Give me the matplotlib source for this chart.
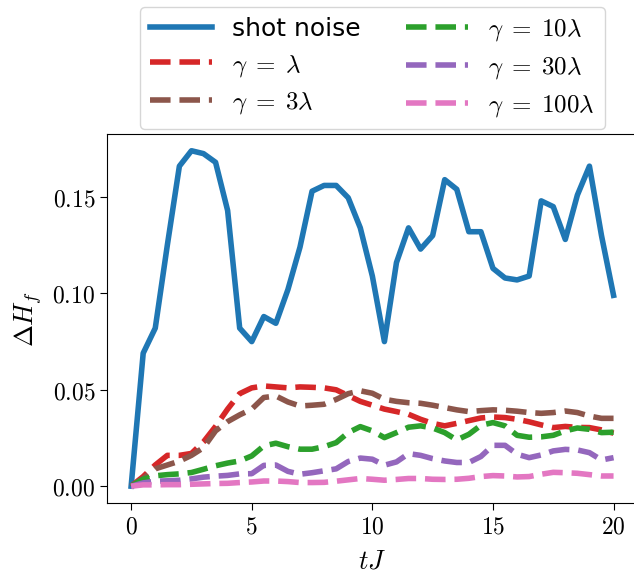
import numpy as np
import matplotlib
matplotlib.use("Agg")
import matplotlib.pyplot as plt
from matplotlib.ticker import FuncFormatter

plt.rcParams["mathtext.fontset"] = "cm"

t = np.arange(0, 20.5, 0.5)

shot_noise = [0, 0.069, 0.082, 0.125, 0.166, 0.174, 0.1725, 0.168, 0.143, 0.082,
              0.075, 0.088, 0.0845, 0.102, 0.124, 0.153, 0.156, 0.156, 0.1496, 0.134,
              0.109, 0.075, 0.116, 0.134, 0.123, 0.130, 0.159, 0.154, 0.132, 0.132,
              0.113, 0.108, 0.107, 0.109, 0.148, 0.145, 0.128, 0.151, 0.166, 0.130,
              0.099]
g1 = [0, 0.005, 0.011, 0.016, 0.016, 0.017, 0.023, 0.031, 0.040, 0.048,
      0.051, 0.052, 0.0515, 0.051, 0.0515, 0.0513, 0.051, 0.050, 0.047, 0.044,
      0.042, 0.040, 0.0387, 0.0373, 0.0347, 0.0326, 0.0313, 0.0326, 0.034, 0.0354,
      0.0359, 0.0356, 0.0347, 0.0334, 0.0318, 0.0304, 0.031, 0.0305, 0.0304, 0.0292,
      0.0275]
g3 = [0, 0.004, 0.009, 0.011, 0.013, 0.016, 0.020, 0.0287, 0.0335, 0.037,
      0.040, 0.046, 0.0468, 0.0437, 0.0416, 0.042, 0.0425, 0.045, 0.048, 0.0495,
      0.0482, 0.0451, 0.044, 0.0433, 0.043, 0.042, 0.0408, 0.0396, 0.0387, 0.0392,
      0.0396, 0.0394, 0.0389, 0.0382, 0.0378, 0.0382, 0.039, 0.0382, 0.0364, 0.0352,
      0.0352]
g10 = [0, 0.0036, 0.0054, 0.006, 0.0064, 0.0071, 0.0088, 0.0106, 0.012, 0.0131,
       0.0157, 0.0209, 0.0223, 0.0205, 0.0192, 0.0192, 0.0205, 0.0226, 0.0278, 0.0309,
       0.0287, 0.0252, 0.0278, 0.0306, 0.0313, 0.0302, 0.0278, 0.024, 0.0269, 0.0316,
       0.033, 0.0313, 0.0264, 0.0254, 0.0256, 0.0264, 0.0287, 0.0302, 0.0295, 0.0278,
       0.028]
g30 = [0, 0.0017, 0.0026, 0.0028, 0.0031, 0.0038, 0.0047, 0.0052, 0.0056, 0.0064,
       0.0065, 0.0108, 0.011, 0.0077, 0.0062, 0.007, 0.008, 0.009, 0.0128, 0.0146,
       0.014, 0.0109, 0.0126, 0.0169, 0.016, 0.0143, 0.0131, 0.0123, 0.0123, 0.0154,
       0.0212, 0.0212, 0.0166, 0.0148, 0.0162, 0.0183, 0.0191, 0.0188, 0.0174, 0.0136,
       0.0148]
g100 = [0, 0.0007, 0.0007, 0.0008, 0.0008, 0.001, 0.0012, 0.0014, 0.0015, 0.0019,
        0.0022, 0.0027, 0.0027, 0.0024, 0.0019, 0.0019, 0.002, 0.0026, 0.0033, 0.004,
        0.0036, 0.0031, 0.0035, 0.004, 0.004, 0.0036, 0.0035, 0.0036, 0.0041, 0.005,
        0.0055, 0.0053, 0.0048, 0.005, 0.0062, 0.0072, 0.007, 0.0067, 0.006, 0.0053,
        0.0053]

labels = ["shot noise", r"$\gamma\;=\;\lambda$", r"$\gamma\;=\;3\lambda$",
          r"$\gamma\;=\;10\lambda$", r"$\gamma\;=\;30\lambda$", r"$\gamma\;=\;100\lambda$"]
colors = ["tab:blue", "tab:red", "tab:brown", "tab:green", "tab:purple", "tab:pink"]

fig = plt.figure(figsize=(6.34, 5.73), dpi=100)
ax = fig.add_axes([0.1688, 0.1222, 0.837, 0.644])

ax.plot(t, shot_noise, color=colors[0], lw=4, label=labels[0])
for ys, c, lab in zip([g1, g3, g10, g30, g100], colors[1:], labels[1:]):
    ax.plot(t, ys, color=c, lw=4, ls="--", label=lab)

ax.yaxis.set_major_formatter(FuncFormatter(lambda v, p: f"${v:.2f}$"))
ax.xaxis.set_major_formatter(FuncFormatter(lambda v, p: f"${v:g}$"))
ax.set_yticks([0, 0.05, 0.10, 0.15])
ax.tick_params(labelsize=17, length=5)
ax.set_xlabel(r"$tJ$", fontsize=19, labelpad=7)
ax.set_ylabel(r"$\Delta H_f$", fontsize=19, labelpad=6)

ax.legend(loc="lower center", bbox_to_anchor=(0.5, 1.0), ncol=2, fontsize=18,
          borderaxespad=0.2, handlelength=2.5, columnspacing=1.8, labelspacing=0.45)

fig.savefig("out.png", dpi=100)
